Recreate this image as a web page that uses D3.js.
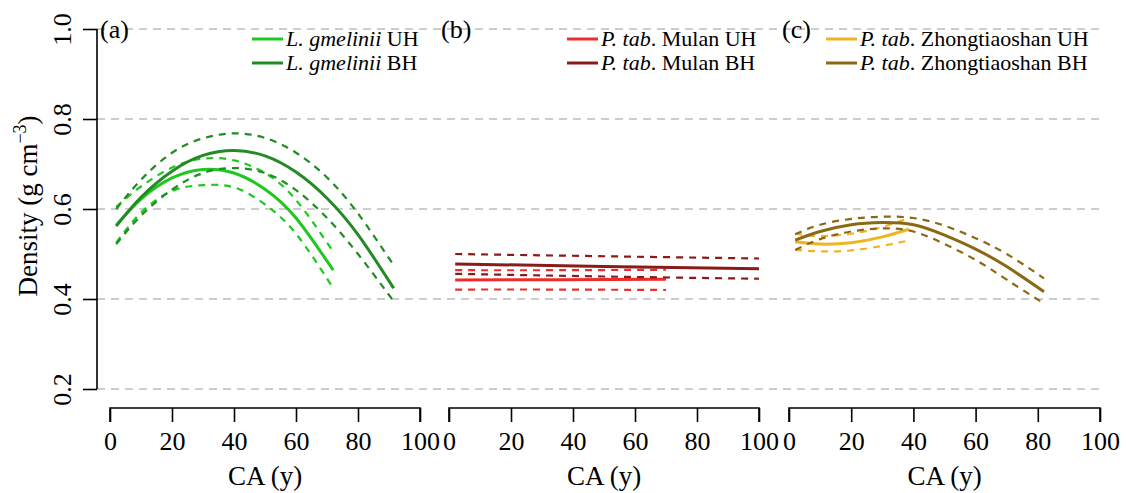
<!DOCTYPE html>
<html>
<head>
<meta charset="utf-8">
<script src="https://cdn.jsdelivr.net/npm/d3@7"></script>
<style>
  body { margin: 0; background: #fff; }
  svg { display: block; }
</style>
</head>
<body>
<div id="chart"></div>
<script>
// ---- data ----
const xTicks = [0, 20, 40, 60, 80, 100]
const yTicks = [0.2, 0.4, 0.6, 0.8, 1.0]
const panelLabels = ["(a)", "(b)", "(c)"]

// (a) L. gmelinii
const caGmUH = [2, 10, 20, 30, 40, 50, 60, 72]
const gmUHFit = [0.564, 0.622, 0.669, 0.688, 0.680, 0.644, 0.580, 0.464]
const gmUHUp = [0.605, 0.650, 0.692, 0.712, 0.708, 0.680, 0.620, 0.505]
const gmUHLo = [0.525, 0.592, 0.640, 0.653, 0.648, 0.610, 0.545, 0.424]
const caGmBH = [2, 10, 20, 30, 40, 50, 60, 70, 80, 91.5]
const gmBHFit = [0.562, 0.626, 0.684, 0.719, 0.730, 0.718, 0.682, 0.624, 0.543, 0.424]
const gmBHUp = [0.600, 0.665, 0.725, 0.757, 0.768, 0.758, 0.725, 0.670, 0.590, 0.475]
const gmBHLo = [0.522, 0.585, 0.643, 0.680, 0.691, 0.680, 0.642, 0.580, 0.500, 0.395]

// (b) P. tab. Mulan
const caMuUH = [2, 35, 70]
const muUHFit = [0.442, 0.443, 0.444]
const muUHUp = [0.464, 0.464, 0.465]
const muUHLo = [0.421, 0.421, 0.420]
const caMuBH = [2, 50, 100]
const muBHFit = [0.478, 0.472, 0.467]
const muBHUp = [0.500, 0.495, 0.490]
const muBHLo = [0.456, 0.450, 0.445]

// (c) P. tab. Zhongtiaoshan
const caZhUH = [2, 10, 20, 30, 38.5]
const zhUHFit = [0.527, 0.522, 0.525, 0.538, 0.555]
const zhUHUp = [0.545, 0.540, 0.545, 0.560, 0.580]
const zhUHLo = [0.509, 0.506, 0.508, 0.518, 0.530]
const caZhBH = [2, 10, 20, 30, 40, 50, 60, 70, 82]
const zhBHFit = [0.531, 0.550, 0.565, 0.570, 0.565, 0.542, 0.511, 0.472, 0.416]
const zhBHUp = [0.544, 0.565, 0.578, 0.583, 0.580, 0.563, 0.535, 0.500, 0.446]
const zhBHLo = [0.509, 0.533, 0.550, 0.557, 0.550, 0.522, 0.487, 0.443, 0.390]

const panels = [
  { label: panelLabels[0], range: [110, 420], labelX: 100, legendX: 252,
    series: [
      { name: ["L. gmelinii", " UH"], color: "#1fc81f", ca: caGmUH, fit: gmUHFit, up: gmUHUp, lo: gmUHLo },
      { name: ["L. gmelinii", " BH"], color: "#238b23", ca: caGmBH, fit: gmBHFit, up: gmBHUp, lo: gmBHLo }
    ] },
  { label: panelLabels[1], range: [449, 759], labelX: 441, legendX: 567,
    series: [
      { name: ["P. tab", ". Mulan UH"], color: "#ee2c2c", ca: caMuUH, fit: muUHFit, up: muUHUp, lo: muUHLo },
      { name: ["P. tab", ". Mulan BH"], color: "#8b1a1a", ca: caMuBH, fit: muBHFit, up: muBHUp, lo: muBHLo }
    ] },
  { label: panelLabels[2], range: [789, 1100], labelX: 782, legendX: 826,
    series: [
      { name: ["P. tab", ". Zhongtiaoshan UH"], color: "#eeb422", ca: caZhUH, fit: zhUHFit, up: zhUHUp, lo: zhUHLo },
      { name: ["P. tab", ". Zhongtiaoshan BH"], color: "#8b6914", ca: caZhBH, fit: zhBHFit, up: zhBHUp, lo: zhBHLo }
    ] }
]

const FONT = "'Liberation Serif', 'DejaVu Serif', serif"
const W = 1126, H = 493
const svg = d3.select("#chart").append("svg")
              .attr("width", W).attr("height", H)
              .style("font-family", FONT)

const yScale = d3.scaleLinear().domain([0.2, 1.0]).range([389, 29])

// grid
svg.append("g")
   .selectAll("line")
   .data(yTicks)
   .join("line")
   .attr("x1", 97).attr("x2", 1105)
   .attr("y1", d => yScale(d)).attr("y2", d => yScale(d))
   .attr("stroke", "#bdbdbd")
   .attr("stroke-width", 1.6)
   .attr("stroke-dasharray", "8,6")

// y axis
const yAxis = svg.append("g")
   .attr("transform", "translate(97,0)")
   .call(d3.axisLeft(yScale).tickValues(yTicks).tickFormat(d3.format(".1f")).tickSize(14).tickPadding(0))
yAxis.attr("font-family", FONT).attr("font-size", 26)
yAxis.select(".domain").attr("stroke", "#000").attr("stroke-width", 1.6).attr("d", `M0,${yScale(1.0)}V${yScale(0.2)}`)
yAxis.selectAll(".tick line").attr("stroke", "#000").attr("stroke-width", 1.6)
yAxis.selectAll(".tick text")
     .attr("x", 0).attr("dy", 0)
     .attr("transform", "translate(-26,0) rotate(-90)")
     .attr("text-anchor", "middle")

svg.append("text")
   .attr("transform", "translate(37,206) rotate(-90)")
   .attr("text-anchor", "middle")
   .style("font-size", "27px")
   .html('Density (g cm<tspan dy="-11" font-size="18px">−3</tspan><tspan dy="11">)</tspan>')

panels.forEach(p => {
  const x = d3.scaleLinear().domain([0, 100]).range(p.range)

  const xAxis = svg.append("g")
     .attr("transform", "translate(0,408)")
     .call(d3.axisBottom(x).tickValues(xTicks).tickSize(14).tickPadding(10))
  xAxis.attr("font-family", FONT).attr("font-size", 26)
  xAxis.select(".domain").attr("stroke", "#000").attr("stroke-width", 1.6)
       .attr("d", `M${x(0)},14V0H${x(100)}V14`)
  xAxis.selectAll(".tick line").attr("stroke", "#000").attr("stroke-width", 1.6)

  svg.append("text")
     .attr("x", (p.range[0] + p.range[1]) / 2)
     .attr("y", 485)
     .attr("text-anchor", "middle")
     .style("font-size", "27px")
     .text("CA (y)")

  svg.append("text")
     .attr("x", p.labelX)
     .attr("y", 38)
     .style("font-size", "26px")
     .text(p.label)

  p.series.forEach((s, i) => {
    const pts = k => s.ca.map((c, j) => [c, s[k][j]])
    const line = d3.line().x(d => x(d[0])).y(d => yScale(d[1])).curve(d3.curveNatural)

    ;["up", "lo"].forEach(k => {
      svg.append("path")
         .attr("d", line(pts(k)))
         .attr("fill", "none")
         .attr("stroke", s.color)
         .attr("stroke-width", 2.2)
         .attr("stroke-dasharray", "7,6")
    })
    svg.append("path")
       .attr("d", line(pts("fit")))
       .attr("fill", "none")
       .attr("stroke", s.color)
       .attr("stroke-width", 3)

    // legend
    const ly = 39 + i * 24
    svg.append("line")
       .attr("x1", p.legendX).attr("x2", p.legendX + 31)
       .attr("y1", ly).attr("y2", ly)
       .attr("stroke", s.color).attr("stroke-width", 3)
    const t = svg.append("text")
       .attr("x", p.legendX + 34).attr("y", ly + 7)
       .style("font-size", "22px")
    t.append("tspan").style("font-style", "italic").text(s.name[0])
    t.append("tspan").text(s.name[1])
  })
})
</script>
</body>
</html>
